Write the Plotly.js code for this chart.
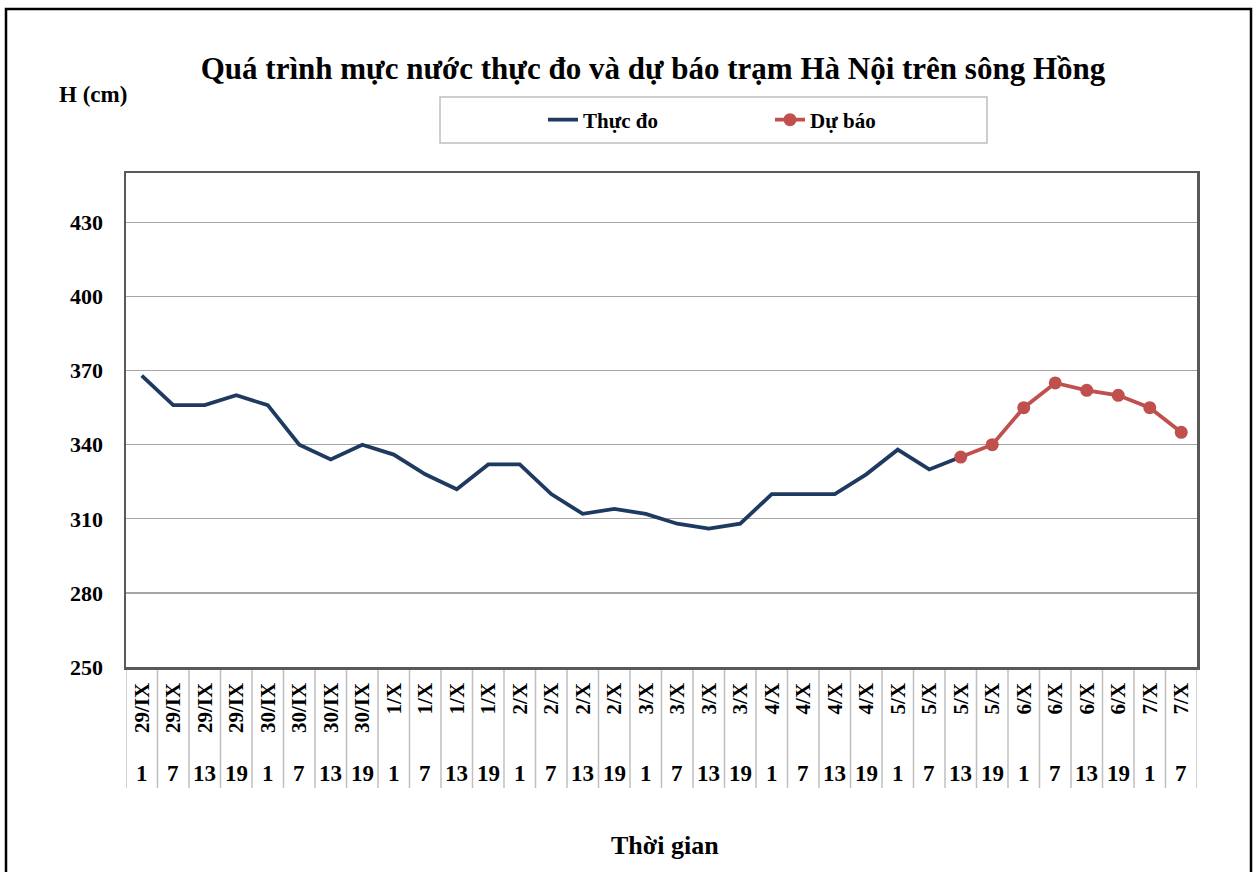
<!DOCTYPE html>
<html>
<head>
<meta charset="utf-8">
<script src="https://cdn.plot.ly/plotly-3.0.1.min.js"></script>
<style>
  html, body { margin: 0; padding: 0; background: #ffffff; }
  #chart { width: 1257px; height: 872px; }
</style>
</head>
<body>
<div id="chart"></div>
<script>
// ---- data ----
const dates = ["29/IX","29/IX","29/IX","29/IX","30/IX","30/IX","30/IX","30/IX",
  "1/X","1/X","1/X","1/X","2/X","2/X","2/X","2/X","3/X","3/X","3/X","3/X",
  "4/X","4/X","4/X","4/X","5/X","5/X","5/X","5/X","6/X","6/X","6/X","6/X","7/X","7/X"];
const hours = ["1","7","13","19","1","7","13","19","1","7","13","19","1","7","13","19",
  "1","7","13","19","1","7","13","19","1","7","13","19","1","7","13","19","1","7"];
const observed = [368,356,356,360,356,340,334,340,336,328,322,332,332,320,312,314,312,308,306,308,
  320,320,320,328,338,330,335,null,null,null,null,null,null,null];
const forecast = [null,null,null,null,null,null,null,null,null,null,null,null,null,null,null,null,
  null,null,null,null,null,null,null,null,null,null,335,340,355,365,362,360,355,345];
const yTicks = [250,280,310,340,370,400,430];

// ---- layout geometry (pixels) ----
const W = 1257, H = 872;
const L = 126, R = 1197, T = 173, B = 667;
const pw = R - L, ph = B - T;
const px = x => (x - L) / pw;
const py = y => (B - y) / ph;

const idx = dates.map((d, i) => i);
const serif = "Liberation Serif, Times New Roman, serif";

const traces = [
  { x: idx, y: observed, type: "scatter", mode: "lines", name: "<b>Thực đo</b>",
    line: { color: "#1F3A60", width: 3.8 }, connectgaps: false },
  { x: idx, y: forecast, type: "scatter", mode: "lines+markers", name: "<b>Dự báo</b>",
    line: { color: "#C0504D", width: 3.8 }, marker: { color: "#C0504D", size: 13 } }
];

const shapes = [];
// separators in category label area
for (let i = 0; i <= dates.length; i++) {
  shapes.push({ type: "line", xref: "x", yref: "paper", x0: i - 0.5, x1: i - 0.5,
    y0: 0, y1: py(788), line: { color: "#BFBFBF", width: 1.5 }, layer: "below" });
}
// legend box
shapes.push({ type: "rect", xref: "paper", yref: "paper", x0: px(440), x1: px(987),
  y0: py(143), y1: py(97), line: { color: "#BFBFBF", width: 1.5 }, fillcolor: "rgba(0,0,0,0)" });
// outer frame
shapes.push({ type: "rect", xref: "paper", yref: "paper", x0: px(6), x1: px(1251),
  y0: py(880), y1: py(9), line: { color: "#000000", width: 2.5 }, fillcolor: "rgba(0,0,0,0)" });

const annotations = hours.map((h, i) => ({
  x: i, y: py(773), xref: "x", yref: "paper", text: "<b>" + h + "</b>", showarrow: false,
  font: { family: serif, size: 23, color: "#000" }, xanchor: "center", yanchor: "middle"
}));
annotations.push({ x: px(93), y: py(95), xref: "paper", yref: "paper", text: "<b>H (cm)</b>",
  showarrow: false, font: { family: serif, size: 23, color: "#000" }, xanchor: "center", yanchor: "middle" });
annotations.push({ x: px(665), y: py(845), xref: "paper", yref: "paper", text: "<b>Thời gian</b>",
  showarrow: false, font: { family: serif, size: 26, color: "#000" }, xanchor: "center", yanchor: "middle" });

const layout = {
  width: W, height: H,
  margin: { l: L, r: W - R, t: T, b: H - B, pad: 0 },
  paper_bgcolor: "#ffffff", plot_bgcolor: "#ffffff",
  title: { text: "<b>Quá trình mực nước thực đo và dự báo trạm Hà Nội trên sông Hồng</b>",
    x: 653 / W, xanchor: "center", y: 1 - 68 / H, yanchor: "middle",
    font: { family: serif, size: 31, color: "#000" } },
  showlegend: true,
  legend: { orientation: "h", x: px(543), y: py(120), xanchor: "left", yanchor: "middle",
    bgcolor: "rgba(0,0,0,0)", borderwidth: 0, entrywidth: 182, entrywidthmode: "pixels",
    font: { family: serif, size: 21, color: "#000" } },
  xaxis: { type: "linear", range: [-0.5, dates.length - 0.5], tickmode: "array",
    tickvals: idx, ticktext: dates.map(d => "<b>" + d + "</b>"), tickangle: -90, ticks: "",
    showgrid: false, zeroline: false,
    showline: true, mirror: true, linecolor: "#595959", linewidth: 2.5,
    tickfont: { family: serif, size: 21, color: "#000" }, ticklabelstandoff: 5, automargin: false,
    fixedrange: true },
  yaxis: { range: [250, 450], tickmode: "array", tickvals: yTicks,
    ticktext: yTicks.map(v => "<b>" + v + "</b>"), ticks: "",
    showgrid: true, gridcolor: "#A6A6A6", gridwidth: 1.3, zeroline: false,
    showline: true, mirror: true, linecolor: "#595959", linewidth: 2.5,
    tickfont: { family: serif, size: 22, color: "#000" }, ticklabelstandoff: 16, automargin: false,
    fixedrange: true },
  shapes: shapes, annotations: annotations
};

Plotly.newPlot("chart", traces, layout, { displayModeBar: false, staticPlot: true });
</script>
</body>
</html>
